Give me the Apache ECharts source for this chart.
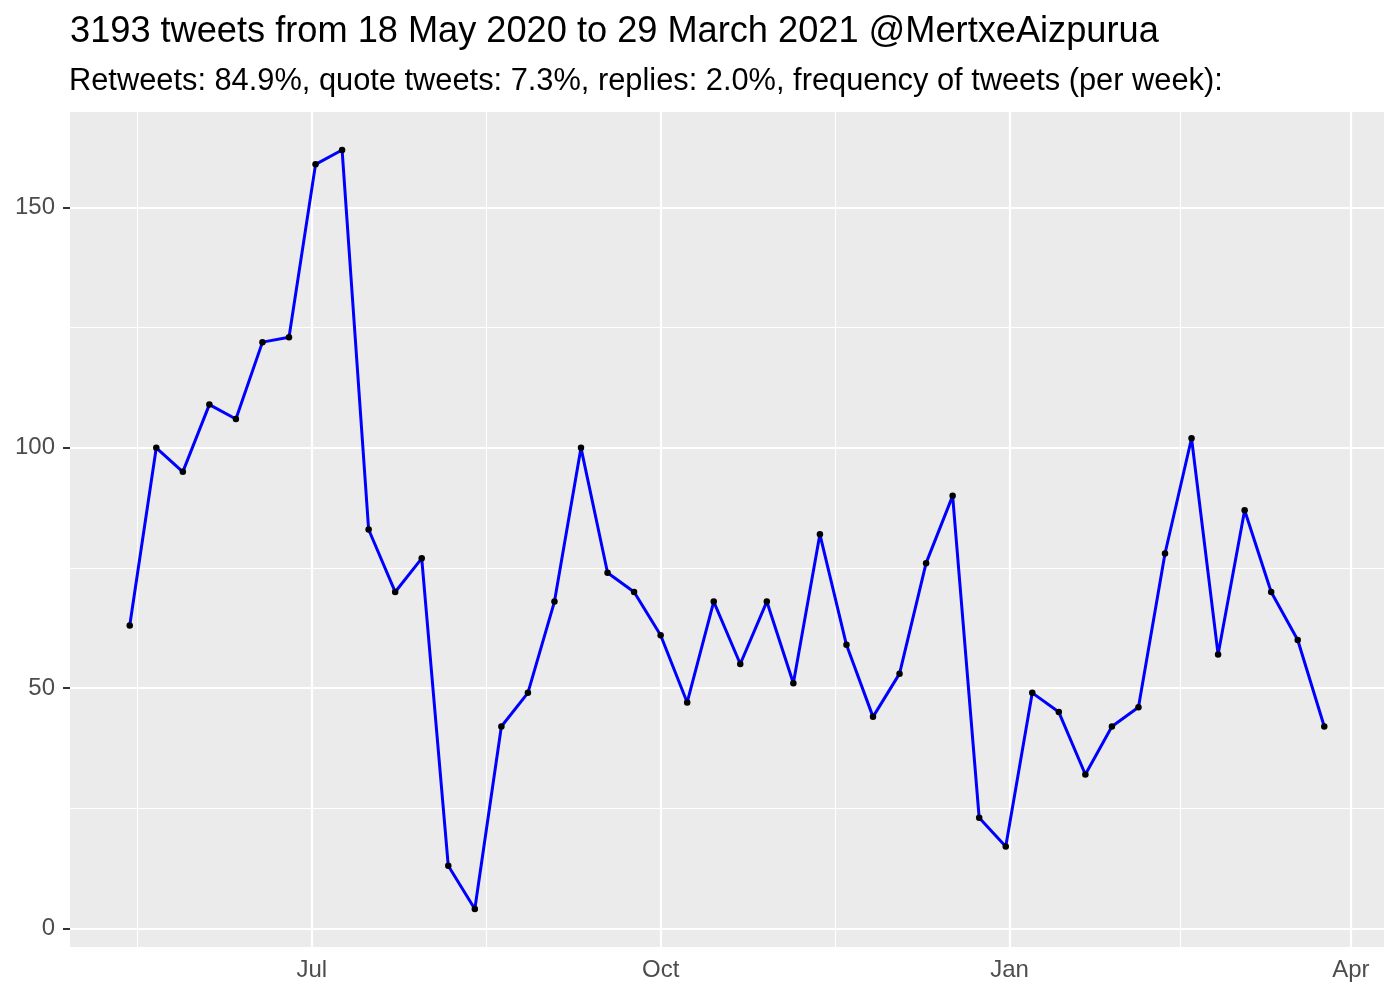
<!DOCTYPE html>
<html>
<head>
<meta charset="utf-8">
<script src="https://cdn.jsdelivr.net/npm/echarts@6/dist/echarts.min.js"></script>
<style>
html,body{margin:0;padding:0;background:#fff;}
#chart{width:1400px;height:1000px;}
</style>
</head>
<body>
<div id="chart"></div>
<script>
const titleText = '3193 tweets from 18 May 2020 to 29 March 2021 @MertxeAizpurua';
const subtitleText = 'Retweets: 84.9%, quote tweets: 7.3%, replies: 2.0%, frequency of tweets (per week):';

const weeks = ['2020-05-14','2020-05-21','2020-05-28','2020-06-04','2020-06-11','2020-06-18','2020-06-25',
  '2020-07-02','2020-07-09','2020-07-16','2020-07-23','2020-07-30','2020-08-06','2020-08-13','2020-08-20','2020-08-27',
  '2020-09-03','2020-09-10','2020-09-17','2020-09-24','2020-10-01','2020-10-08','2020-10-15','2020-10-22','2020-10-29',
  '2020-11-05','2020-11-12','2020-11-19','2020-11-26','2020-12-03','2020-12-10','2020-12-17','2020-12-24','2020-12-31',
  '2021-01-07','2021-01-14','2021-01-21','2021-01-28','2021-02-04','2021-02-11','2021-02-18','2021-02-25',
  '2021-03-04','2021-03-11','2021-03-18','2021-03-25'];
const tweetCounts = [63,100,95,109,106,122,123,159,162,83,70,77,13,4,42,49,68,100,74,70,
  61,47,68,55,68,51,82,59,44,53,76,90,23,17,49,45,32,42,46,78,102,57,87,70,60,42];

const xMajorBreaks = ['2020-07-01','2020-10-01','2021-01-01','2021-04-01'];
const xMajorLabels = ['Jul','Oct','Jan','Apr'];
const xMinorBreaks = ['2020-05-16','2020-08-16','2020-11-16','2021-02-15'];
const yMajorBreaks = [0,50,100,150];
const yMinorBreaks = [25,75,125];

const ts = s => { const p = s.split('-').map(Number); return Date.UTC(p[0], p[1]-1, p[2]); };
const tMin = ts(weeks[0]), tMax = ts(weeks[weeks.length-1]);
const xPad = (tMax - tMin) * 0.05;
const yMinData = Math.min(...tweetCounts), yMaxData = Math.max(...tweetCounts);
const yPad = (yMaxData - yMinData) * 0.05;

const majorTs = xMajorBreaks.map(ts);
const labelMap = {};
majorTs.forEach((t,i)=>{ labelMap[t] = xMajorLabels[i]; });

const chart = echarts.init(document.getElementById('chart'), null, {renderer:'canvas'});
const FONT = '"Liberation Sans", Arial, Helvetica, sans-serif';

const gridLines = [];
xMinorBreaks.forEach(d => gridLines.push({xAxis: ts(d), lineStyle:{color:'#ffffff', width:1.1, type:'solid'}}));
yMinorBreaks.forEach(v => gridLines.push({yAxis: v, lineStyle:{color:'#ffffff', width:1.1, type:'solid'}}));
majorTs.forEach(t => gridLines.push({xAxis: t, lineStyle:{color:'#ffffff', width:2.2, type:'solid'}}));
yMajorBreaks.forEach(v => gridLines.push({yAxis: v, lineStyle:{color:'#ffffff', width:2.2, type:'solid'}}));

chart.setOption({
  animation: false,
  backgroundColor: '#ffffff',
  title: [
    {text: titleText, left: 65, top: 9.5, textStyle:{fontFamily: FONT, fontSize: 36.2, fontWeight:'normal', color:'#000000'}},
    {text: subtitleText, left: 64, top: 61, textStyle:{fontFamily: FONT, fontSize: 30.8, fontWeight:'normal', color:'#000000'}}
  ],
  grid: {left: 70, right: 16, top: 112, bottom: 53, show: true, backgroundColor:'#EBEBEB', borderWidth: 0, containLabel: false},
  xAxis: {
    type: 'value',
    min: tMin - xPad,
    max: tMax + xPad,
    axisLine: {show: false},
    splitLine: {show: false},
    axisTick: {show: true, length: 7, lineStyle:{color:'#333333', width: 2}, customValues: majorTs},
    axisLabel: {
      customValues: majorTs,
      margin: 11,
      fontFamily: FONT, fontSize: 24, color: '#4D4D4D',
      formatter: v => labelMap[v] || ''
    }
  },
  yAxis: {
    type: 'value',
    min: yMinData - yPad,
    max: yMaxData + yPad,
    axisLine: {show: false},
    splitLine: {show: false},
    axisTick: {show: true, length: 7, lineStyle:{color:'#333333', width: 2}, customValues: yMajorBreaks},
    axisLabel: {
      customValues: yMajorBreaks,
      margin: 15,
      fontFamily: FONT, fontSize: 24, color: '#4D4D4D',
      formatter: v => String(v)
    }
  },
  series: [
    {
      name: 'grid',
      type: 'line',
      data: [],
      z: 1,
      silent: true,
      markLine: {silent: true, z: 1, symbol: ['none','none'], label:{show:false}, animation:false, data: gridLines}
    },
    {
      name: 'tweets',
      type: 'line',
      z: 3,
      data: weeks.map((d,i)=>[ts(d), tweetCounts[i]]),
      lineStyle: {color:'#0000FF', width: 3},
      symbol: 'circle',
      symbolSize: 6.5,
      showSymbol: true,
      itemStyle: {color:'#000000', borderWidth: 0},
      emphasis: {disabled: true}
    }
  ]
});
</script>
</body>
</html>
